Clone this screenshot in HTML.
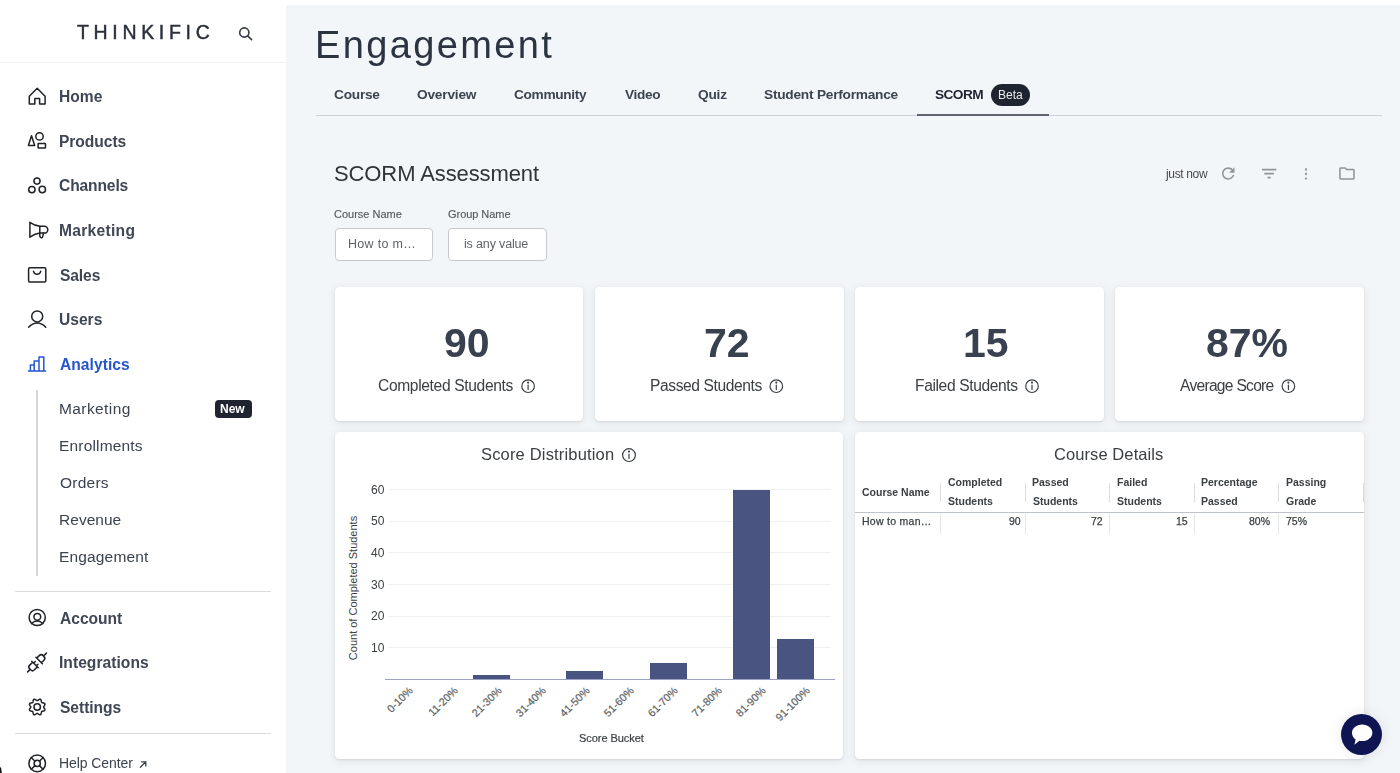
<!DOCTYPE html>
<html><head><meta charset="utf-8"><title>Engagement</title>
<style>
html,body{margin:0;padding:0}
body{width:1400px;height:773px;overflow:hidden;position:relative;background:#fff;font-family:"Liberation Sans",Arial,sans-serif}
.t{position:absolute;white-space:nowrap;line-height:1;will-change:transform}
</style></head><body>
<div style="position:absolute;left:0;top:0;width:286px;height:773px;background:#fff"></div>
<div style="position:absolute;left:0;top:62px;width:286px;height:1px;background:#f1f1f2"></div>
<div class="t" style="left:77.10px;top:22.89px;font-size:19.5px;font-weight:400;color:#2a303b;letter-spacing:4.675px;-webkit-text-stroke:0.45px #2a303b;">THINKIFIC</div>
<svg style="position:absolute;left:237px;top:25px" width="18" height="18" viewBox="0 0 18 18"><circle cx="7.3" cy="7.5" r="4.6" fill="none" stroke="#363c47" stroke-width="1.6"/><line x1="10.6" y1="10.8" x2="14.6" y2="14.6" stroke="#363c47" stroke-width="1.6" stroke-linecap="round"/></svg>
<div class="t" style="left:59.00px;top:88.89px;font-size:15.6px;font-weight:700;color:#3f4655;letter-spacing:0.033px;">Home</div>
<div class="t" style="left:59.00px;top:133.59px;font-size:15.6px;font-weight:700;color:#3f4655;letter-spacing:-0.057px;">Products</div>
<div class="t" style="left:59.40px;top:178.19px;font-size:15.6px;font-weight:700;color:#3f4655;letter-spacing:-0.129px;">Channels</div>
<div class="t" style="left:59.00px;top:222.99px;font-size:15.6px;font-weight:700;color:#3f4655;letter-spacing:0.287px;">Marketing</div>
<div class="t" style="left:59.50px;top:267.79px;font-size:15.6px;font-weight:700;color:#3f4655;letter-spacing:-0.1px;">Sales</div>
<div class="t" style="left:59.10px;top:312.19px;font-size:15.6px;font-weight:700;color:#3f4655;">Users</div>
<div class="t" style="left:59.60px;top:356.99px;font-size:15.6px;font-weight:700;color:#2755cf;letter-spacing:0.037px;">Analytics</div>
<div class="t" style="left:59.60px;top:610.79px;font-size:15.6px;font-weight:700;color:#3f4655;letter-spacing:-0.017px;">Account</div>
<div class="t" style="left:59.00px;top:655.19px;font-size:15.6px;font-weight:700;color:#3f4655;letter-spacing:0.036px;">Integrations</div>
<div class="t" style="left:59.50px;top:699.59px;font-size:15.6px;font-weight:700;color:#3f4655;letter-spacing:-0.043px;">Settings</div>
<div class="t" style="left:59.00px;top:401.28px;font-size:15.5px;font-weight:400;color:#3b4250;letter-spacing:0.412px;">Marketing</div>
<div class="t" style="left:59.00px;top:437.98px;font-size:15.5px;font-weight:400;color:#3b4250;letter-spacing:0.17px;">Enrollments</div>
<div class="t" style="left:59.60px;top:474.98px;font-size:15.5px;font-weight:400;color:#3b4250;letter-spacing:0.24px;">Orders</div>
<div class="t" style="left:59.00px;top:512.18px;font-size:15.5px;font-weight:400;color:#3b4250;letter-spacing:0.033px;">Revenue</div>
<div class="t" style="left:59.00px;top:549.18px;font-size:15.5px;font-weight:400;color:#3b4250;letter-spacing:0.156px;">Engagement</div>
<div style="position:absolute;left:36px;top:390px;width:2px;height:186px;background:#d4d7dd"></div>
<div style="position:absolute;left:214.5px;top:399.5px;width:37px;height:18.5px;border-radius:4px;background:#1f2430"></div>
<div class="t" style="left:220.25px;top:403.04px;font-size:12px;font-weight:700;color:#fff;">New</div>
<div style="position:absolute;left:15px;top:591px;width:256px;height:1px;background:#dadbdd"></div>
<div style="position:absolute;left:15px;top:733px;width:256px;height:1px;background:#dadbdd"></div>
<div class="t" style="left:58.90px;top:756.05px;font-size:14px;font-weight:400;color:#3b4250;letter-spacing:-0.09px;">Help Center</div>
<svg style="position:absolute;left:0px;top:0px;overflow:visible" width="1" height="1" viewBox="0 0 1 1" fill="none" stroke="#1f2226" stroke-width="1.5" stroke-linejoin="round" stroke-linecap="round"><path d="M29.3 104.1V96.2L37.2 88.2L45.1 96.2V104.1H39.6V98.6H34.8V104.1Z"/></svg>
<svg style="position:absolute;left:0px;top:0px;overflow:visible" width="1" height="1" viewBox="0 0 1 1" fill="none" stroke="#1f2226" stroke-width="1.5" stroke-linejoin="round" stroke-linecap="round"><path d="M28.4 145.5L31.5 135.8L34.7 145.5Z"/><circle cx="39.5" cy="136.4" r="3.7"/><rect x="38.1" y="143.5" width="7.4" height="4.5" rx="0.6"/></svg>
<svg style="position:absolute;left:0px;top:0px;overflow:visible" width="1" height="1" viewBox="0 0 1 1" fill="none" stroke="#1f2226" stroke-width="1.5" stroke-linejoin="round" stroke-linecap="round"><circle cx="37" cy="181.1" r="3.05"/><circle cx="31.9" cy="189.6" r="3.2"/><circle cx="42.3" cy="189.5" r="3.2"/></svg>
<svg style="position:absolute;left:0px;top:0px;overflow:visible" width="1" height="1" viewBox="0 0 1 1" fill="none" stroke="#1f2226" stroke-width="1.5" stroke-linejoin="round" stroke-linecap="round"><path d="M29.9 222.3Q34.3 225.4 39.8 226.3H44.4A3.4 3.4 0 0 1 44.4 233.1H39.8Q34.3 234 29.9 237.2Z"/><path d="M39.8 226.3V233.1"/><path d="M39.8 233.1V236.3Q40.4 237.9 41.6 237.8Q42.9 237.6 43.4 233.1"/></svg>
<svg style="position:absolute;left:0px;top:0px;overflow:visible" width="1" height="1" viewBox="0 0 1 1" fill="none" stroke="#1f2226" stroke-width="1.5" stroke-linejoin="round" stroke-linecap="round"><rect x="28.6" y="267.7" width="17.2" height="14.2" rx="1.2"/><path d="M33.5 271.3A3.7 3.7 0 0 0 40.7 271.3"/></svg>
<svg style="position:absolute;left:0px;top:0px;overflow:visible" width="1" height="1" viewBox="0 0 1 1" fill="none" stroke="#1f2226" stroke-width="1.5" stroke-linejoin="round" stroke-linecap="round"><circle cx="37.2" cy="316.4" r="5.5"/><path d="M28.6 327.3C31 324.6 33.2 322.9 37.2 322.9C41.2 322.9 43.4 324.6 45.8 327.3"/></svg>
<svg style="position:absolute;left:0px;top:0px;overflow:visible" width="1" height="1" viewBox="0 0 1 1" fill="none" stroke="#2755cf" stroke-width="1.5" stroke-linejoin="round" stroke-linecap="round"><path d="M28.5 371H45.5M30.4 371V365.1H34.2V371M34.2 371V361H39V371M39 371V357H43.8V371"/></svg>
<svg style="position:absolute;left:0px;top:0px;overflow:visible" width="1" height="1" viewBox="0 0 1 1" fill="none" stroke="#1f2226" stroke-width="1.5" stroke-linejoin="round" stroke-linecap="round"><circle cx="37.2" cy="617.5" r="8.1"/><circle cx="37.3" cy="616.8" r="3.4"/><path d="M31.6 623.6C33.2 621.9 35 621.1 37.2 621.1C39.4 621.1 41.2 621.9 42.8 623.6"/></svg>
<svg style="position:absolute;left:0px;top:0px;overflow:visible" width="1" height="1" viewBox="0 0 1 1" fill="none" stroke="#1f2226" stroke-width="1.5" stroke-linejoin="round" stroke-linecap="round"><g transform="translate(37.05 662.5) rotate(-45)"><path d="M-13.3 0H-9.7M-2.9 -3.3H-7.4Q-9.7 -3.3 -9.7 -1V1Q-9.7 3.3 -7.4 3.3H-2.9M-2.9 -4.6V4.6M-2.9 -1.9H-0.6M-2.9 1.9H-0.6M2.9 -4.6V4.6M2.9 -3.3H6.4Q9.2 -3.3 9.2 -0.5V0.5Q9.2 3.3 6.4 3.3H2.9M9.2 0H13.3"/></g></svg>
<svg style="position:absolute;left:0px;top:0px;overflow:visible" width="1" height="1" viewBox="0 0 1 1" fill="none" stroke="#1f2226" stroke-width="1.5" stroke-linejoin="round" stroke-linecap="round"><circle cx="37.2" cy="707" r="3.2"/><path d="M43.60 707.00 L43.64 707.25 L43.76 707.52 L43.94 707.80 L44.17 708.10 L44.41 708.43 L44.63 708.78 L44.81 709.15 L44.92 709.51 L44.94 709.86 L44.87 710.18 L44.70 710.46 L44.43 710.69 L44.10 710.86 L43.72 710.99 L43.31 711.08 L42.91 711.15 L42.53 711.20 L42.20 711.27 L41.93 711.38 L41.73 711.53 L41.58 711.73 L41.47 712.00 L41.40 712.33 L41.35 712.71 L41.28 713.11 L41.19 713.52 L41.06 713.90 L40.89 714.23 L40.66 714.50 L40.38 714.67 L40.06 714.74 L39.71 714.72 L39.35 714.61 L38.98 714.43 L38.63 714.21 L38.30 713.97 L38.00 713.74 L37.72 713.56 L37.45 713.44 L37.20 713.40 L36.95 713.44 L36.68 713.56 L36.40 713.74 L36.10 713.97 L35.77 714.21 L35.42 714.43 L35.05 714.61 L34.69 714.72 L34.34 714.74 L34.02 714.67 L33.74 714.50 L33.51 714.23 L33.34 713.90 L33.21 713.52 L33.12 713.11 L33.05 712.71 L33.00 712.33 L32.93 712.00 L32.82 711.73 L32.67 711.53 L32.47 711.38 L32.20 711.27 L31.87 711.20 L31.49 711.15 L31.09 711.08 L30.68 710.99 L30.30 710.86 L29.97 710.69 L29.70 710.46 L29.53 710.18 L29.46 709.86 L29.48 709.51 L29.59 709.15 L29.77 708.78 L29.99 708.43 L30.23 708.10 L30.46 707.80 L30.64 707.52 L30.76 707.25 L30.80 707.00 L30.76 706.75 L30.64 706.48 L30.46 706.20 L30.23 705.90 L29.99 705.57 L29.77 705.22 L29.59 704.85 L29.48 704.49 L29.46 704.14 L29.53 703.82 L29.70 703.54 L29.97 703.31 L30.30 703.14 L30.68 703.01 L31.09 702.92 L31.49 702.85 L31.87 702.80 L32.20 702.73 L32.47 702.62 L32.67 702.47 L32.82 702.27 L32.93 702.00 L33.00 701.67 L33.05 701.29 L33.12 700.89 L33.21 700.48 L33.34 700.10 L33.51 699.77 L33.74 699.50 L34.02 699.33 L34.34 699.26 L34.69 699.28 L35.05 699.39 L35.42 699.57 L35.77 699.79 L36.10 700.03 L36.40 700.26 L36.68 700.44 L36.95 700.56 L37.20 700.60 L37.45 700.56 L37.72 700.44 L38.00 700.26 L38.30 700.03 L38.63 699.79 L38.98 699.57 L39.35 699.39 L39.71 699.28 L40.06 699.26 L40.38 699.33 L40.66 699.50 L40.89 699.77 L41.06 700.10 L41.19 700.48 L41.28 700.89 L41.35 701.29 L41.40 701.67 L41.47 702.00 L41.58 702.27 L41.73 702.47 L41.93 702.62 L42.20 702.73 L42.53 702.80 L42.91 702.85 L43.31 702.92 L43.72 703.01 L44.10 703.14 L44.43 703.31 L44.70 703.54 L44.87 703.82 L44.94 704.14 L44.92 704.49 L44.81 704.85 L44.63 705.22 L44.41 705.57 L44.17 705.90 L43.94 706.20 L43.76 706.48 L43.64 706.75 L43.60 707.00Z"/></svg>
<svg style="position:absolute;left:0px;top:0px;overflow:visible" width="1" height="1" viewBox="0 0 1 1" fill="none" stroke="#3b4250" stroke-width="1.3" stroke-linejoin="round" stroke-linecap="round"><path d="M140.4 767.2L145.8 761.8M141.6 761.8H145.8V766"/></svg>
<svg style="position:absolute;left:0px;top:0px;overflow:visible" width="1" height="1" viewBox="0 0 1 1" fill="none" stroke="#1f2226" stroke-width="1.5" stroke-linejoin="round" stroke-linecap="round"><circle cx="37.2" cy="763.4" r="8.3"/><circle cx="37.2" cy="763.4" r="3.1"/><path d="M31.3 757.5L35 761.2M43.1 757.5L39.4 761.2M31.3 769.3L35 765.6M43.1 769.3L39.4 765.6"/></svg>
<div style="position:absolute;left:286px;top:5px;width:1114px;height:768px;background:#f3f6f9"></div>
<div class="t" style="left:315.40px;top:25.53px;font-size:38px;font-weight:400;color:#2c3441;letter-spacing:2.356px;">Engagement</div>
<div class="t" style="left:334.10px;top:87.60px;font-size:13.7px;font-weight:700;color:#3d4451;letter-spacing:-0.24px;">Course</div>
<div class="t" style="left:417.00px;top:87.60px;font-size:13.7px;font-weight:700;color:#3d4451;letter-spacing:-0.2px;">Overview</div>
<div class="t" style="left:513.90px;top:87.60px;font-size:13.7px;font-weight:700;color:#3d4451;letter-spacing:-0.325px;">Community</div>
<div class="t" style="left:624.70px;top:87.60px;font-size:13.7px;font-weight:700;color:#3d4451;letter-spacing:-0.35px;">Video</div>
<div class="t" style="left:697.70px;top:87.60px;font-size:13.7px;font-weight:700;color:#3d4451;letter-spacing:-0.2px;">Quiz</div>
<div class="t" style="left:763.60px;top:87.60px;font-size:13.7px;font-weight:700;color:#3d4451;letter-spacing:-0.233px;">Student Performance</div>
<div class="t" style="left:935.20px;top:87.60px;font-size:13.7px;font-weight:700;color:#1f2430;letter-spacing:-0.575px;">SCORM</div>
<div style="position:absolute;left:316px;top:115px;width:1066px;height:1px;background:#cfd3d8"></div>
<div style="position:absolute;left:917px;top:114px;width:132px;height:2px;background:#5f656e"></div>
<div style="position:absolute;left:991px;top:84px;width:39px;height:21.5px;border-radius:11px;background:#1e2430"></div>
<div class="t" style="left:997.65px;top:88.84px;font-size:12px;font-weight:400;color:#e8e9eb;">Beta</div>
<div class="t" style="left:333.90px;top:162.68px;font-size:22px;font-weight:400;color:#2f3437;letter-spacing:-0.1px;">SCORM Assessment</div>
<div class="t" style="left:334.40px;top:208.89px;font-size:11px;font-weight:400;color:#55595d;-webkit-text-stroke:0.15px #55595d;">Course Name</div>
<div class="t" style="left:448.00px;top:208.89px;font-size:11px;font-weight:400;color:#55595d;letter-spacing:-0.044px;-webkit-text-stroke:0.15px #55595d;">Group Name</div>
<div style="position:absolute;left:334.5px;top:228px;width:98px;height:32.5px;box-sizing:border-box;border:1px solid #c6cacf;border-radius:4px;background:#fff"></div>
<div style="position:absolute;left:448.3px;top:228px;width:98.5px;height:32.5px;box-sizing:border-box;border:1px solid #c6cacf;border-radius:4px;background:#fff"></div>
<div class="t" style="left:347.70px;top:237.62px;font-size:12.5px;font-weight:400;color:#5f6368;letter-spacing:0.3px;">How to m…</div>
<div class="t" style="left:463.70px;top:237.62px;font-size:12.5px;font-weight:400;color:#5f6368;letter-spacing:-0.155px;">is any value</div>
<div class="t" style="left:1165.80px;top:167.64px;font-size:12px;font-weight:400;color:#45494d;letter-spacing:-0.343px;">just now</div>
<svg style="position:absolute;left:0;top:0;overflow:visible" width="1" height="1"><g fill="#919498"><path transform="translate(1218.9 164.2) scale(0.78)" d="M17.65 6.35C16.2 4.9 14.21 4 12 4c-4.42 0-7.99 3.58-7.99 8s3.57 8 7.99 8c3.73 0 6.84-2.55 7.73-6h-2.08c-.82 2.33-3.04 4-5.65 4-3.31 0-6-2.69-6-6s2.69-6 6-6c1.66 0 3.14.69 4.22 1.78L13 11h7V4l-2.35 2.35z"/><path transform="translate(1259.5 164) scale(0.8)" d="M10 18h4v-2h-4v2zM3 6v2h18V6H3zm3 7h12v-2H6v2z"/><circle cx="1306" cy="169.5" r="1.15"/><circle cx="1306" cy="174" r="1.15"/><circle cx="1306" cy="178.6" r="1.15"/><path transform="translate(1337.6 164.1) scale(0.78)" d="M9.17 6l2 2H20v10H4V6h5.17M10 4H4c-1.1 0-1.99.9-1.99 2L2 18c0 1.1.9 2 2 2h16c1.1 0 2-.9 2-2V8c0-1.1-.9-2-2-2h-8l-2-2z"/></g></svg>
<div style="position:absolute;left:334.7px;top:287px;width:248.8px;height:134px;background:#fff;border-radius:4.5px;box-shadow:0 2px 8px 1px rgba(40,40,45,0.075),0 1px 2px rgba(40,40,45,0.10)"></div>
<div class="t" style="left:443.85px;top:322.59px;font-size:41px;font-weight:700;color:#394150;">90</div>
<div class="t" style="left:378.30px;top:377.89px;font-size:15.6px;font-weight:400;color:#3c4043;letter-spacing:-0.353px;">Completed Students</div>
<svg style="position:absolute;left:0px;top:0px;overflow:visible" width="1" height="1" viewBox="0 0 1 1" fill="none" stroke="#3c4043" stroke-width="1.2" stroke-linejoin="round" stroke-linecap="round"><circle cx="528.1" cy="386.2" r="6.3"/><path d="M528.1 385.2V389.6"/><circle cx="528.1" cy="382.6" r="0.5" fill="#3c4043"/></svg>
<div style="position:absolute;left:594.8px;top:287px;width:248.8px;height:134px;background:#fff;border-radius:4.5px;box-shadow:0 2px 8px 1px rgba(40,40,45,0.075),0 1px 2px rgba(40,40,45,0.10)"></div>
<div class="t" style="left:703.70px;top:322.59px;font-size:41px;font-weight:700;color:#394150;">72</div>
<div class="t" style="left:649.75px;top:377.89px;font-size:15.6px;font-weight:400;color:#3c4043;letter-spacing:-0.407px;">Passed Students</div>
<svg style="position:absolute;left:0px;top:0px;overflow:visible" width="1" height="1" viewBox="0 0 1 1" fill="none" stroke="#3c4043" stroke-width="1.2" stroke-linejoin="round" stroke-linecap="round"><circle cx="776.3" cy="386.2" r="6.3"/><path d="M776.3 385.2V389.6"/><circle cx="776.3" cy="382.6" r="0.5" fill="#3c4043"/></svg>
<div style="position:absolute;left:855px;top:287px;width:248.8px;height:134px;background:#fff;border-radius:4.5px;box-shadow:0 2px 8px 1px rgba(40,40,45,0.075),0 1px 2px rgba(40,40,45,0.10)"></div>
<div class="t" style="left:963.25px;top:322.59px;font-size:41px;font-weight:700;color:#394150;">15</div>
<div class="t" style="left:914.50px;top:377.89px;font-size:15.6px;font-weight:400;color:#3c4043;letter-spacing:-0.379px;">Failed Students</div>
<svg style="position:absolute;left:0px;top:0px;overflow:visible" width="1" height="1" viewBox="0 0 1 1" fill="none" stroke="#3c4043" stroke-width="1.2" stroke-linejoin="round" stroke-linecap="round"><circle cx="1032.0" cy="386.2" r="6.3"/><path d="M1032.0 385.2V389.6"/><circle cx="1032.0" cy="382.6" r="0.5" fill="#3c4043"/></svg>
<div style="position:absolute;left:1115.2px;top:287px;width:248.8px;height:134px;background:#fff;border-radius:4.5px;box-shadow:0 2px 8px 1px rgba(40,40,45,0.075),0 1px 2px rgba(40,40,45,0.10)"></div>
<div class="t" style="left:1205.85px;top:322.59px;font-size:41px;font-weight:700;color:#394150;">87%</div>
<div class="t" style="left:1179.80px;top:377.89px;font-size:15.6px;font-weight:400;color:#3c4043;letter-spacing:-0.717px;">Average Score</div>
<svg style="position:absolute;left:0px;top:0px;overflow:visible" width="1" height="1" viewBox="0 0 1 1" fill="none" stroke="#3c4043" stroke-width="1.2" stroke-linejoin="round" stroke-linecap="round"><circle cx="1288.4" cy="386.2" r="6.3"/><path d="M1288.4 385.2V389.6"/><circle cx="1288.4" cy="382.6" r="0.5" fill="#3c4043"/></svg>
<div style="position:absolute;left:334.7px;top:432px;width:508.6px;height:327px;background:#fff;border-radius:4.5px;box-shadow:0 2px 8px 1px rgba(40,40,45,0.075),0 1px 2px rgba(40,40,45,0.10)"></div>
<div style="position:absolute;left:855px;top:432px;width:508.8px;height:327px;background:#fff;border-radius:4.5px;box-shadow:0 2px 8px 1px rgba(40,40,45,0.075),0 1px 2px rgba(40,40,45,0.10)"></div>
<div class="t" style="left:481.40px;top:445.93px;font-size:16.5px;font-weight:400;color:#3c4043;letter-spacing:0.171px;">Score Distribution</div>
<svg style="position:absolute;left:0px;top:0px;overflow:visible" width="1" height="1" viewBox="0 0 1 1" fill="none" stroke="#3c4043" stroke-width="1.2" stroke-linejoin="round" stroke-linecap="round"><circle cx="629" cy="455.1" r="6.4"/><path d="M629 454.1V458.5"/><circle cx="629" cy="451.5" r="0.5" fill="#3c4043"/></svg>
<div style="position:absolute;left:389.4px;top:647.20px;width:442px;height:1px;background:#edf0f3"></div>
<div class="t" style="left:370.60px;top:641.84px;font-size:12px;font-weight:400;color:#3c4043;">10</div>
<div style="position:absolute;left:389.4px;top:615.60px;width:442px;height:1px;background:#edf0f3"></div>
<div class="t" style="left:370.60px;top:610.24px;font-size:12px;font-weight:400;color:#3c4043;">20</div>
<div style="position:absolute;left:389.4px;top:584.00px;width:442px;height:1px;background:#edf0f3"></div>
<div class="t" style="left:370.60px;top:578.64px;font-size:12px;font-weight:400;color:#3c4043;">30</div>
<div style="position:absolute;left:389.4px;top:552.40px;width:442px;height:1px;background:#edf0f3"></div>
<div class="t" style="left:370.60px;top:547.04px;font-size:12px;font-weight:400;color:#3c4043;">40</div>
<div style="position:absolute;left:389.4px;top:520.80px;width:442px;height:1px;background:#edf0f3"></div>
<div class="t" style="left:370.60px;top:515.44px;font-size:12px;font-weight:400;color:#3c4043;">50</div>
<div style="position:absolute;left:389.4px;top:489.20px;width:442px;height:1px;background:#edf0f3"></div>
<div class="t" style="left:370.60px;top:483.84px;font-size:12px;font-weight:400;color:#3c4043;">60</div>
<div style="position:absolute;left:384.7px;top:678.70px;width:450px;height:1.2px;background:#9ba2c4"></div>
<div style="position:absolute;left:473.1px;top:675.40px;width:36.8px;height:3.90px;background:#4a5480"></div>
<div style="position:absolute;left:566.2px;top:671.00px;width:36.7px;height:8.30px;background:#4a5480"></div>
<div style="position:absolute;left:650.4px;top:662.50px;width:36.8px;height:16.80px;background:#4a5480"></div>
<div style="position:absolute;left:733.3px;top:490.20px;width:36.7px;height:189.10px;background:#4a5480"></div>
<div style="position:absolute;left:776.8px;top:639.20px;width:36.8px;height:40.10px;background:#4a5480"></div>
<div style="position:absolute;white-space:nowrap;line-height:1;left:347.4px;top:685px;width:60px;text-align:right;font-size:10.7px;color:#606468;-webkit-text-stroke:0.2px #606468;transform-origin:100% 0;transform:rotate(-45deg)">0-10%</div>
<div style="position:absolute;white-space:nowrap;line-height:1;left:391.5px;top:685px;width:60px;text-align:right;font-size:10.7px;color:#606468;-webkit-text-stroke:0.2px #606468;transform-origin:100% 0;transform:rotate(-45deg)">11-20%</div>
<div style="position:absolute;white-space:nowrap;line-height:1;left:435.5px;top:685px;width:60px;text-align:right;font-size:10.7px;color:#606468;-webkit-text-stroke:0.2px #606468;transform-origin:100% 0;transform:rotate(-45deg)">21-30%</div>
<div style="position:absolute;white-space:nowrap;line-height:1;left:479.6px;top:685px;width:60px;text-align:right;font-size:10.7px;color:#606468;-webkit-text-stroke:0.2px #606468;transform-origin:100% 0;transform:rotate(-45deg)">31-40%</div>
<div style="position:absolute;white-space:nowrap;line-height:1;left:523.6px;top:685px;width:60px;text-align:right;font-size:10.7px;color:#606468;-webkit-text-stroke:0.2px #606468;transform-origin:100% 0;transform:rotate(-45deg)">41-50%</div>
<div style="position:absolute;white-space:nowrap;line-height:1;left:567.6px;top:685px;width:60px;text-align:right;font-size:10.7px;color:#606468;-webkit-text-stroke:0.2px #606468;transform-origin:100% 0;transform:rotate(-45deg)">51-60%</div>
<div style="position:absolute;white-space:nowrap;line-height:1;left:611.7px;top:685px;width:60px;text-align:right;font-size:10.7px;color:#606468;-webkit-text-stroke:0.2px #606468;transform-origin:100% 0;transform:rotate(-45deg)">61-70%</div>
<div style="position:absolute;white-space:nowrap;line-height:1;left:655.8px;top:685px;width:60px;text-align:right;font-size:10.7px;color:#606468;-webkit-text-stroke:0.2px #606468;transform-origin:100% 0;transform:rotate(-45deg)">71-80%</div>
<div style="position:absolute;white-space:nowrap;line-height:1;left:699.8px;top:685px;width:60px;text-align:right;font-size:10.7px;color:#606468;-webkit-text-stroke:0.2px #606468;transform-origin:100% 0;transform:rotate(-45deg)">81-90%</div>
<div style="position:absolute;white-space:nowrap;line-height:1;left:743.9px;top:685px;width:60px;text-align:right;font-size:10.7px;color:#606468;-webkit-text-stroke:0.2px #606468;transform-origin:100% 0;transform:rotate(-45deg)">91-100%</div>
<div class="t" style="left:579.15px;top:732.99px;font-size:11px;font-weight:400;color:#3c4043;letter-spacing:-0.055px;-webkit-text-stroke:0.2px #3c4043;">Score Bucket</div>
<div style="position:absolute;left:353.3px;top:588px;width:0;height:0"><div style="position:absolute;left:-80px;top:-6px;width:160px;text-align:center;font-size:11px;color:#3c4043;transform:rotate(-90deg);white-space:nowrap">Count of Completed Students</div></div>
<div class="t" style="left:1054.20px;top:446.03px;font-size:16.5px;font-weight:400;color:#3c4043;letter-spacing:0.085px;">Course Details</div>
<div class="t" style="left:862.40px;top:486.81px;font-size:10.5px;font-weight:700;color:#3c4043;">Course Name</div>
<div class="t" style="left:947.80px;top:477.11px;font-size:10.5px;font-weight:700;color:#3c4043;">Completed</div>
<div class="t" style="left:947.90px;top:496.11px;font-size:10.5px;font-weight:700;color:#3c4043;">Students</div>
<div class="t" style="left:1032.40px;top:477.11px;font-size:10.5px;font-weight:700;color:#3c4043;">Passed</div>
<div class="t" style="left:1032.80px;top:496.11px;font-size:10.5px;font-weight:700;color:#3c4043;">Students</div>
<div class="t" style="left:1116.70px;top:477.11px;font-size:10.5px;font-weight:700;color:#3c4043;">Failed</div>
<div class="t" style="left:1117.10px;top:496.11px;font-size:10.5px;font-weight:700;color:#3c4043;">Students</div>
<div class="t" style="left:1201.40px;top:477.11px;font-size:10.5px;font-weight:700;color:#3c4043;">Percentage</div>
<div class="t" style="left:1201.40px;top:496.11px;font-size:10.5px;font-weight:700;color:#3c4043;">Passed</div>
<div class="t" style="left:1285.60px;top:477.11px;font-size:10.5px;font-weight:700;color:#3c4043;">Passing</div>
<div class="t" style="left:1285.90px;top:496.11px;font-size:10.5px;font-weight:700;color:#3c4043;">Grade</div>
<div style="position:absolute;left:939.9px;top:483px;width:1px;height:19px;background:#dadce0"></div>
<div style="position:absolute;left:939.9px;top:514px;width:1px;height:20px;background:#e3e5e8"></div>
<div style="position:absolute;left:1024.8px;top:483px;width:1px;height:19px;background:#dadce0"></div>
<div style="position:absolute;left:1024.8px;top:514px;width:1px;height:20px;background:#e3e5e8"></div>
<div style="position:absolute;left:1109.1px;top:483px;width:1px;height:19px;background:#dadce0"></div>
<div style="position:absolute;left:1109.1px;top:514px;width:1px;height:20px;background:#e3e5e8"></div>
<div style="position:absolute;left:1193.8px;top:483px;width:1px;height:19px;background:#dadce0"></div>
<div style="position:absolute;left:1193.8px;top:514px;width:1px;height:20px;background:#e3e5e8"></div>
<div style="position:absolute;left:1278.0px;top:483px;width:1px;height:19px;background:#dadce0"></div>
<div style="position:absolute;left:1278.0px;top:514px;width:1px;height:20px;background:#e3e5e8"></div>
<div style="position:absolute;left:1362.5px;top:483px;width:1px;height:19px;background:#dadce0"></div>
<div style="position:absolute;left:855px;top:512px;width:508.8px;height:1.2px;background:#bfc4ca"></div>
<div class="t" style="left:861.70px;top:516.11px;font-size:10.5px;font-weight:400;color:#3c4043;letter-spacing:0.28px;-webkit-text-stroke:0.25px #3c4043;">How to man…</div>
<div class="t" style="left:1009.40px;top:516.11px;font-size:10.5px;font-weight:400;color:#3c4043;-webkit-text-stroke:0.25px #3c4043;">90</div>
<div class="t" style="left:1091.00px;top:516.11px;font-size:10.5px;font-weight:400;color:#3c4043;-webkit-text-stroke:0.25px #3c4043;">72</div>
<div class="t" style="left:1176.40px;top:516.11px;font-size:10.5px;font-weight:400;color:#3c4043;-webkit-text-stroke:0.25px #3c4043;">15</div>
<div class="t" style="left:1248.90px;top:516.11px;font-size:10.5px;font-weight:400;color:#3c4043;-webkit-text-stroke:0.25px #3c4043;">80%</div>
<div class="t" style="left:1285.70px;top:516.11px;font-size:10.5px;font-weight:400;color:#3c4043;-webkit-text-stroke:0.25px #3c4043;">75%</div>
<div style="position:absolute;left:1341.3px;top:714.1px;width:41px;height:41px;border-radius:50%;background:#0e1552;box-shadow:0 0 14px rgba(0,0,0,0.10)"></div>
<svg style="position:absolute;left:0;top:0;overflow:visible" width="1" height="1"><path fill="#fff" d="M1362.2 724.4C1367.9 724.4 1372.4 728.1 1372.4 732.7C1372.4 737.3 1367.9 741 1362.2 741C1361.2 741 1360.3 740.9 1359.4 740.7L1354.4 744.8L1355.6 739.4C1353.3 737.9 1352 735.4 1352 732.7C1352 728.1 1356.5 724.4 1362.2 724.4Z"/></svg>
<svg style="position:absolute;left:0;top:0;overflow:visible" width="1" height="1"><path fill="#111" d="M0 766.5L1.2 768.5L1.8 773H0Z"/></svg>
</body></html>
